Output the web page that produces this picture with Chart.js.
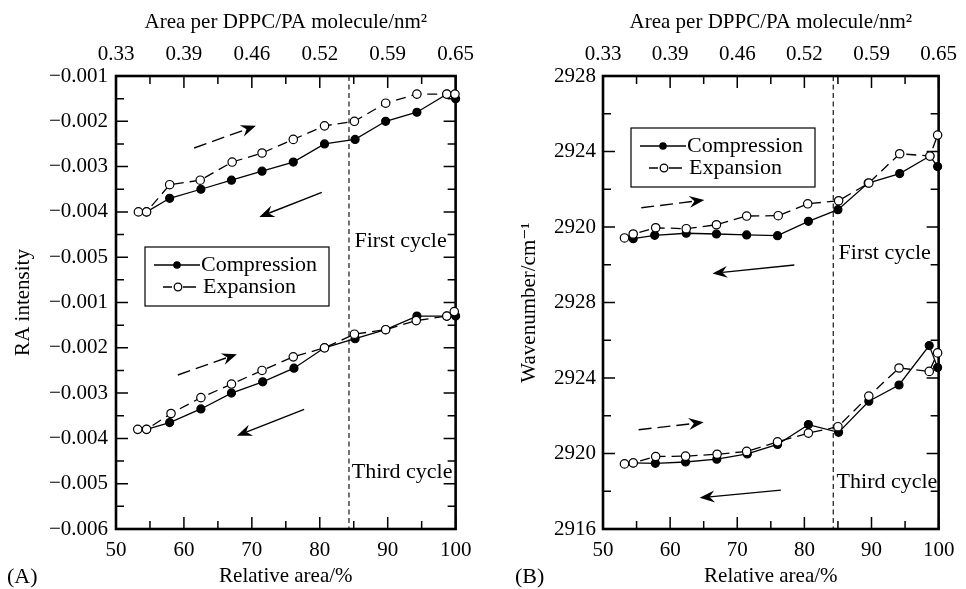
<!DOCTYPE html>
<html><head><meta charset="utf-8">
<script src="https://cdn.jsdelivr.net/npm/chart.js@4.4.1/dist/chart.umd.min.js"></script>
<style>
html,body{margin:0;padding:0;background:#fff;}
body{width:966px;height:589px;overflow:hidden;position:relative;}
canvas{position:absolute;top:0;}
#cA{left:0;} #cB{left:483px;}
</style></head>
<body>
<canvas id="cA" width="483" height="589"></canvas>
<canvas id="cB" width="483" height="589"></canvas>
<script>
// ---------------- data ----------------
const topAxisLabels = ['0.33', '0.39', '0.46', '0.52', '0.59', '0.65'];
const raTickLabels = ['\u22120.006', '\u22120.005', '\u22120.004', '\u22120.003', '\u22120.002', '\u22120.001',
                      '\u22120.005', '\u22120.004', '\u22120.003', '\u22120.002', '\u22120.001'];
const wnTickLabels = ['2916', '2920', '2924', '2928', '2920', '2924', '2928'];

// Panel A - RA intensity, first cycle
const raFirstCompX = [100, 98.7, 94.3, 89.7, 85.2, 80.7, 76.1, 71.5, 67.0, 62.5, 57.9, 54.5];
const raFirstCompY = [-0.0015, -0.0014, -0.0018, -0.0020, -0.0024, -0.0025, -0.0029, -0.0031, -0.0033, -0.0035, -0.0037, -0.0040];
const raFirstExpX = [53.3, 54.5, 57.9, 62.4, 67.1, 71.5, 76.1, 80.7, 85.1, 89.7, 94.3, 98.7, 99.9];
const raFirstExpY = [-0.0040, -0.0040, -0.0034, -0.0033, -0.0029, -0.0027, -0.0024, -0.0021, -0.0020, -0.0016, -0.0014, -0.0014, -0.0014];
// Panel A - RA intensity, third cycle
const raThirdCompX = [100, 98.7, 94.3, 89.7, 85.2, 80.7, 76.2, 71.6, 67.0, 62.5, 57.9, 54.5];
const raThirdCompY = [-0.0013, -0.0013, -0.0013, -0.0016, -0.0018, -0.0020, -0.00245, -0.00275, -0.0030, -0.00335, -0.00365, -0.0038];
const raThirdExpX = [53.2, 54.5, 58.1, 62.5, 67.0, 71.5, 76.1, 80.7, 85.1, 89.7, 94.2, 98.7, 99.8];
const raThirdExpY = [-0.0038, -0.0038, -0.00345, -0.0031, -0.0028, -0.0025, -0.0022, -0.0020, -0.0017, -0.0016, -0.0014, -0.0013, -0.0012];

// Panel B - wavenumber, first cycle
const wnFirstCompX = [99.85, 98.7, 94.2, 89.5, 85.0, 80.6, 76.0, 71.4, 66.9, 62.4, 57.7, 54.5];
const wnFirstCompY = [2923.2, 2923.76, 2922.83, 2922.33, 2920.92, 2920.30, 2919.54, 2919.58, 2919.63, 2919.67, 2919.56, 2919.38];
const wnFirstExpX = [53.2, 54.5, 57.85, 62.4, 66.9, 71.4, 76.1, 80.5, 85.1, 89.6, 94.2, 98.7, 99.85];
const wnFirstExpY = [2919.42, 2919.63, 2919.96, 2919.91, 2920.12, 2920.58, 2920.60, 2921.23, 2921.39, 2922.33, 2923.88, 2923.76, 2924.87];
// Panel B - wavenumber, third cycle
const wnThirdCompX = [99.85, 98.6, 94.1, 89.6, 85.1, 80.6, 76.0, 71.5, 66.95, 62.3, 57.8, 54.5];
const wnThirdCompY = [2924.55, 2925.72, 2923.63, 2922.77, 2921.12, 2921.53, 2920.48, 2919.98, 2919.70, 2919.55, 2919.48, 2919.50];
const wnThirdExpX = [53.2, 54.5, 57.85, 62.3, 67.0, 71.4, 76.0, 80.6, 85.0, 89.6, 94.1, 98.6, 99.85];
const wnThirdExpY = [2919.45, 2919.50, 2919.84, 2919.86, 2919.96, 2920.11, 2920.62, 2921.08, 2921.42, 2923.04, 2924.53, 2924.35, 2925.33];

// annotation arrows [x1, y1, x2, y2, dashed, inTopBlock]
const raArrows = [
  [61.5, -0.00259, 70.6, -0.00210, true, true],
  [80.3, -0.00357, 71.1, -0.00411, false, true],
  [59.1, -0.00260, 67.8, -0.00214, true, false],
  [77.7, -0.00336, 67.8, -0.00394, false, false]
];
const wnArrows = [
  [55.7, 2921.02, 65.1, 2921.43, true, true],
  [78.5, 2917.99, 66.3, 2917.54, false, true],
  [55.3, 2921.26, 65.0, 2921.65, true, false],
  [76.5, 2918.06, 64.4, 2917.65, false, false]
];
const cycleLabels = ['First cycle', 'Third cycle'];
const phaseLineX = 84.3;

// ---------------- rendering ----------------
const FONT = "'Liberation Serif', 'DejaVu Serif', 'Times New Roman', serif";
Chart.defaults.font.family = FONT;
Chart.defaults.color = '#000';

function pts(xs, ys, off) { return xs.map((x, i) => ({x: x, y: ys[i] + off})); }

function drawArrow(ctx, x1, y1, x2, y2, dashed) {
  const ang = Math.atan2(y2 - y1, x2 - x1);
  const c = Math.cos(ang), s = Math.sin(ang);
  const L = 15, W = 6, N = 10;
  ctx.save();
  ctx.strokeStyle = '#000'; ctx.fillStyle = '#000';
  ctx.lineWidth = 1.4;
  ctx.setLineDash(dashed ? [13, 6] : []);
  ctx.beginPath(); ctx.moveTo(x1, y1); ctx.lineTo(x2 - c * N, y2 - s * N); ctx.stroke();
  ctx.setLineDash([]);
  ctx.beginPath();
  ctx.moveTo(x2, y2);
  ctx.lineTo(x2 - c * L - s * W, y2 - s * L + c * W);
  ctx.lineTo(x2 - c * N, y2 - s * N);
  ctx.lineTo(x2 - c * L + s * W, y2 - s * L - c * W);
  ctx.closePath(); ctx.fill();
  ctx.restore();
}

const decor = {
  id: 'decor',
  beforeDatasetsDraw(chart) {
    const o = chart.options.plugins.decor;
    const {ctx, chartArea: a, scales} = chart;
    const xs = scales.x, ys = scales.y;
    ctx.save();
    ctx.strokeStyle = '#000';
    ctx.lineWidth = 1.5;
    ctx.beginPath();
    xs.ticks.forEach(t => {
      const px = xs.getPixelForValue(t.value);
      const len = (Math.round(t.value) % 10 === 0) ? 12 : 8;
      ctx.moveTo(px, a.bottom); ctx.lineTo(px, a.bottom - len);
      ctx.moveTo(px, a.top); ctx.lineTo(px, a.top + len);
    });
    ys.ticks.forEach(t => {
      const py = ys.getPixelForValue(t.value);
      const k = Math.round((t.value - o.yMin) / o.yStep);
      const len = (k % 2 === 0) ? 12 : 8;
      ctx.moveTo(a.left, py); ctx.lineTo(a.left + len, py);
      ctx.moveTo(a.right, py); ctx.lineTo(a.right - len, py);
    });
    ctx.stroke();
    // phase boundary
    const vx = xs.getPixelForValue(o.phaseX);
    ctx.lineWidth = 1.1;
    ctx.setLineDash([5, 3.5]);
    ctx.beginPath(); ctx.moveTo(vx, a.top); ctx.lineTo(vx, a.bottom); ctx.stroke();
    ctx.setLineDash([]);
    // frame
    ctx.lineWidth = 2.6;
    ctx.strokeRect(a.left, a.top, a.right - a.left, a.bottom - a.top);
    ctx.restore();
  },
  afterDatasetsDraw(chart) {
    const o = chart.options.plugins.decor;
    const {ctx, scales} = chart;
    const xs = scales.x, ys = scales.y;
    o.arrows.forEach(r => {
      const off = r[5] ? o.offset : 0;
      drawArrow(ctx, xs.getPixelForValue(r[0]), ys.getPixelForValue(r[1] + off),
                xs.getPixelForValue(r[2]), ys.getPixelForValue(r[3] + off), r[4]);
    });
    ctx.save();
    ctx.fillStyle = '#000';
    ctx.font = '22px ' + FONT;
    ctx.textBaseline = 'middle'; ctx.textAlign = 'left';
    o.texts.forEach(t => {
      ctx.fillText(t[0], xs.getPixelForValue(t[1]), ys.getPixelForValue(t[2] + (t[3] ? o.offset : 0)));
    });
    // legend
    const L = o.legend;
    ctx.fillStyle = '#fff';
    ctx.fillRect(L.left, L.top, 184, 59);
    ctx.strokeStyle = '#000'; ctx.lineWidth = 1.2;
    ctx.strokeRect(L.left, L.top, 184, 59);
    const r1 = L.top + 18, r2 = L.top + 40, mx = L.left + 32;
    ctx.lineWidth = 1.3;
    ctx.beginPath(); ctx.moveTo(L.left + 9, r1); ctx.lineTo(L.left + 55, r1); ctx.stroke();
    ctx.fillStyle = '#000';
    ctx.beginPath(); ctx.arc(mx, r1, 3.8, 0, Math.PI * 2); ctx.fill();
    ctx.beginPath(); ctx.moveTo(L.left + 18, r2); ctx.lineTo(L.left + 27, r2);
    ctx.moveTo(L.left + 38, r2); ctx.lineTo(L.left + 51, r2); ctx.stroke();
    ctx.fillStyle = '#fff';
    ctx.beginPath(); ctx.arc(mx + 1, r2, 3.8, 0, Math.PI * 2); ctx.fill(); ctx.stroke();
    ctx.fillStyle = '#000';
    ctx.fillText(chart.data.datasets[0].label, L.left + 56, r1);
    ctx.fillText(chart.data.datasets[1].label, L.left + 58, r2);
    // panel letter
    ctx.fillText(o.panel, o.panelX, 577);
    ctx.restore();
  }
};

function makePanel(id, p) {
  const compStyle = {borderColor: '#000', backgroundColor: '#000', borderWidth: 1.3, pointRadius: 4,
    pointBorderWidth: 1.2, pointBackgroundColor: '#000', pointBorderColor: '#000', clip: false, order: 2, tension: 0};
  const expStyle = {borderColor: '#000', backgroundColor: '#fff', borderWidth: 1.3, borderDash: [10, 6], pointRadius: 4.2,
    pointBorderWidth: 1.2, pointBackgroundColor: '#fff', pointBorderColor: '#000', clip: false, order: 1, tension: 0};
  new Chart(document.getElementById(id), {
    type: 'line',
    data: {
      datasets: [
        Object.assign({label: 'Compression', data: pts(p.s[0], p.s[1], p.offset)}, compStyle),
        Object.assign({label: 'Expansion', data: pts(p.s[2], p.s[3], p.offset)}, expStyle),
        Object.assign({label: 'Compression 3', data: pts(p.s[4], p.s[5], 0)}, compStyle),
        Object.assign({label: 'Expansion 3', data: pts(p.s[6], p.s[7], 0)}, expStyle)
      ]
    },
    options: {
      responsive: false, animation: false, devicePixelRatio: 1,
      layout: {padding: {left: 0, top: 0, right: p.padRight, bottom: 0}},
      plugins: {legend: {display: false}, tooltip: {enabled: false},
        decor: {yMin: p.yMin, yStep: p.yStep, offset: p.offset, arrows: p.arrows, texts: p.texts,
                legend: p.legend, panel: p.panel, panelX: p.panelX, phaseX: phaseLineX}},
      scales: {
        x: {type: 'linear', position: 'bottom', min: 50, max: 100,
            grid: {display: false, drawTicks: false}, border: {display: false},
            ticks: {stepSize: 5, autoSkip: false, maxRotation: 0, padding: 9, font: {size: 21},
                    callback: v => (Math.round(v) % 10 === 0 ? String(Math.round(v)) : '')},
            title: {display: true, text: 'Relative area/%', font: {size: 21}, padding: {top: 0, bottom: 0}},
            afterFit: s => { s.height = 60; }},
        x2: {type: 'linear', position: 'top', min: 50, max: 100,
             grid: {display: false, drawTicks: false}, border: {display: false},
             ticks: {stepSize: 10, autoSkip: false, maxRotation: 0, padding: 9, font: {size: 21},
                     callback: v => topAxisLabels[Math.round((v - 50) / 10)]},
             title: {display: true, text: 'Area per DPPC/PA molecule/nm\u00B2', font: {size: 21}, padding: {top: 10, bottom: 0}},
             afterFit: s => { s.height = 76; }},
        y: {type: 'linear', position: 'left', min: p.yMin, max: p.yMax,
            grid: {display: false, drawTicks: false}, border: {display: false},
            ticks: {stepSize: p.yStep, autoSkip: false, padding: p.yTickPad, font: {size: 21},
                    callback: v => { const k = Math.round((v - p.yMin) / p.yStep); return k % 2 === 0 ? p.yLabels[k / 2] : ''; }},
            title: {display: true, text: p.yTitle, font: {size: 21}, padding: {top: p.yTitlePad, bottom: 0}},
            afterFit: s => { s.width = p.yWidth; }}
      }
    },
    plugins: [decor]
  });
}

makePanel('cA', {
  yMin: -0.006, yMax: 0.004, yStep: 0.0005, yLabels: raTickLabels, offset: 0.005,
  yTitle: 'RA intensity', yWidth: 116, yTickPad: 8, yTitlePad: 11, padRight: 25,
  s: [raFirstCompX, raFirstCompY, raFirstExpX, raFirstExpY, raThirdCompX, raThirdCompY, raThirdExpX, raThirdExpY],
  arrows: raArrows,
  texts: [[cycleLabels[0], 85.1, -0.00464, true], [cycleLabels[1], 84.7, -0.00474, false]],
  legend: {left: 145, top: 247}, panel: '(A)', panelX: 7
});
makePanel('cB', {
  yMin: 2916, yMax: 2940, yStep: 2, yLabels: wnTickLabels, offset: 12,
  yTitle: 'Wavenumber/cm\u207B\u00B9', yWidth: 120, yTickPad: 7, yTitlePad: 34, padRight: 21,
  s: [wnFirstCompX, wnFirstCompY, wnFirstExpX, wnFirstExpY, wnThirdCompX, wnThirdCompY, wnThirdExpX, wnThirdExpY],
  arrows: wnArrows,
  texts: [[cycleLabels[0], 85.1, 2918.62, true], [cycleLabels[1], 84.8, 2918.47, false]],
  legend: {left: 148, top: 128}, panel: '(B)', panelX: 32
});
</script>
</body></html>
